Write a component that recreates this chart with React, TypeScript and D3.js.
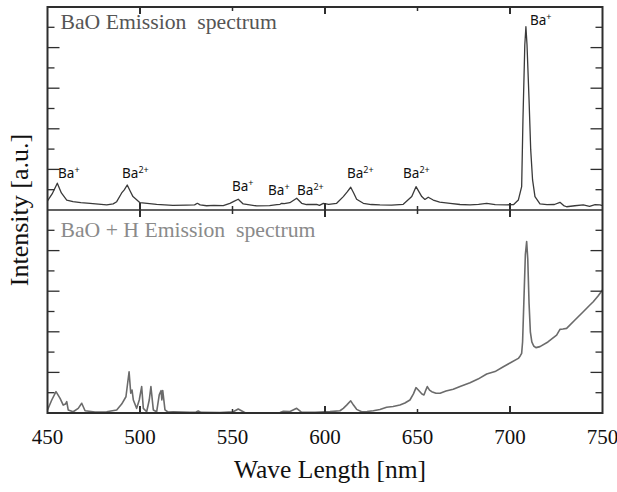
import React from 'react';
import * as d3 from 'd3';

// x axis
const xTickValues = [450, 500, 550, 600, 650, 700, 750];
const xMajorTicks = [500, 600, 700];
const xMinorTicks = [550, 650];
// y (minor marks, arbitrary units, each panel 0..10)
const yTickValues = [1, 2, 3, 4, 5, 6, 7, 8, 9];

// BaO emission spectrum  [wavelength nm, intensity a.u.]
const baoSpectrum: [number, number][] = [
  [450, 0.45], [452.5, 0.79], [455.3, 1.32], [457.5, 0.84], [460.4, 0.49], [463.8, 0.41], [468, 0.36], [473, 0.33],
  [482, 0.25], [485.5, 0.3], [487.4, 0.41], [490.1, 0.84], [491.5, 0.99], [493.1, 1.23], [494.8, 0.91], [496.2, 0.66],
  [500, 0.36], [509, 0.28], [517.8, 0.23], [525, 0.24], [529.5, 0.25], [531, 0.33], [532.5, 0.25], [536, 0.21],
  [540, 0.23], [545, 0.22], [548.6, 0.33], [551, 0.44], [553.1, 0.53], [555.8, 0.3], [563.1, 0.2], [570, 0.22],
  [574, 0.26], [575.7, 0.28], [576.6, 0.33], [578, 0.31], [581, 0.36], [584.7, 0.58], [587.4, 0.33], [590, 0.27],
  [595.5, 0.28], [597, 0.23], [599.1, 0.33], [602, 0.28], [606.3, 0.33], [609.9, 0.66], [612, 0.89], [613.9, 1.12],
  [615.5, 0.84], [617.1, 0.53], [620.7, 0.33], [625, 0.27], [629.7, 0.25], [636, 0.24], [642.3, 0.28], [646.9, 0.66],
  [649.2, 1.15], [652.3, 0.66], [654, 0.52], [655.8, 0.63], [658.5, 0.49], [662, 0.39], [667.6, 0.33], [673, 0.27],
  [678.4, 0.25], [683, 0.28], [687.4, 0.33], [692, 0.26], [698.2, 0.25], [702, 0.27], [704.5, 0.49], [706.3, 1.15],
  [707, 4.43], [708, 8.13], [708.6, 9.03], [709.2, 8.13], [710.3, 5.42], [711.2, 2.96], [712.2, 1.48], [713.5, 0.66],
  [716.2, 0.3], [720, 0.26], [724, 0.27], [727, 0.38], [729, 0.22], [730.6, 0.16], [735, 0.21], [739.6, 0.25],
  [743, 0.18], [746, 0.26], [748.6, 0.25], [750, 0.22],
];

// BaO + H emission spectrum
const baohSpectrum: [number, number][] = [
  [450, 0.15], [452.3, 0.64], [454.6, 1.05], [456.8, 0.72], [458.5, 0.39], [459.7, 0.44], [460.4, 0.56], [461.2, 0.15],
  [463.9, 0.06], [466.6, 0.23], [468.5, 0.48], [470.3, 0.11], [475.7, 0.05], [482, 0.06], [487.4, 0.15], [490.1, 0.44],
  [492.4, 0.8], [493.2, 1.38], [494.1, 2.03], [495, 0.97], [495.7, 1.13], [496.4, 0.64], [498.2, 0.23], [499.6, 0.64],
  [500.9, 1.3], [501.8, 0.23], [503.6, 0.06], [505, 0.64], [505.9, 1.3], [507.2, 0.15], [509, 0.06], [510.4, 0.89],
  [511.4, 1.1], [511.8, 0.64], [512.3, 1.1], [513.5, 0.15], [515.1, 0.05], [518, 0.06], [527, 0.03], [530.3, 0.05],
  [531.5, 0.1], [533, 0.03], [543.2, 0.02], [550.4, 0.06], [553.1, 0.2], [556.8, 0.01], [567.6, 0.01], [575.7, 0.02],
  [577.5, 0.08], [581.1, 0.07], [584.7, 0.23], [587.4, 0.03], [594.6, 0.03], [602.7, 0.07], [608.1, 0.11], [609.9, 0.23],
  [611.7, 0.39], [613.9, 0.6], [615.4, 0.39], [617.1, 0.18], [619.8, 0.06], [622.7, 0.07], [626.1, 0.11], [629.7, 0.17],
  [633.3, 0.28], [636.8, 0.32], [640.5, 0.39], [643.2, 0.49], [645.9, 0.64], [647.8, 0.94], [649.2, 1.25], [650.2, 1.16],
  [651.3, 1.05], [652.4, 0.94], [653.5, 0.89], [654.5, 1.13], [655.3, 1.3], [656.5, 1.13], [657.7, 1.05], [660, 0.97],
  [662.2, 0.97], [665.4, 1.08], [669.3, 1.17], [673, 1.31], [678.4, 1.49], [682.7, 1.67], [687.4, 1.92], [691.9, 2.04],
  [696.4, 2.28], [700, 2.46], [704.5, 2.69], [705.5, 2.81], [706.3, 2.94], [706.8, 3.5], [707.5, 5.5], [708.3, 7.8],
  [709, 8.44], [709.6, 7.6], [710.3, 5.4], [711, 4.0], [711.8, 3.5], [712.8, 3.3], [714, 3.22], [716.2, 3.27],
  [720.5, 3.5], [725.2, 3.84], [727, 4.12], [728.6, 4.14], [730.6, 4.17], [735.1, 4.58], [739.6, 4.99], [743.2, 5.32],
  [745, 5.48], [747.6, 5.76], [750, 6.06],
];

// peak annotations (top panel)
const peakCharge = ['+', '2+', '+', '+', '2+', '2+', '2+', '+'];
const peakWave = [455.7, 490.3, 549.7, 569.2, 584.9, 611.9, 642.2, 710.8];
const peakLevel = [1.58, 1.58, 0.95, 0.74, 0.74, 1.56, 1.58, 9.11];

const titles = ['BaO Emission  spectrum', 'BaO + H Emission  spectrum'];
const xAxisTitle = 'Wave Length [nm]';
const yAxisTitle = 'Intensity [a.u.]';

export default function App() {
  const W = 617, H = 492;
  const L = 47.5, R = 602.5, T = 7, M = 210, B = 413;
  const x = d3.scaleLinear().domain([450, 750]).range([L, R]);
  const yTop = d3.scaleLinear().domain([0, 10]).range([M, T]);
  const yBot = d3.scaleLinear().domain([0, 10]).range([B, M]);
  const lineTop = d3.line<[number, number]>().x(d => x(d[0])).y(d => yTop(d[1]));
  const lineBot = d3.line<[number, number]>().x(d => x(d[0])).y(d => yBot(d[1]));
  const serif = '"Liberation Serif", "Times New Roman", serif';
  const sans = '"Noto Sans", "Open Sans", sans-serif';
  const axisColor = '#2e2e2e';

  const yTickMarks = (scale: d3.ScaleLinear<number, number>) =>
    yTickValues.map(v => {
      const len = v % 2 === 0 ? 12 : 7;
      const yy = scale(v);
      return (
        <g key={v}>
          <line x1={L} x2={L + len} y1={yy} y2={yy} stroke={axisColor} strokeWidth={1.3} />
          <line x1={R} x2={R - len} y1={yy} y2={yy} stroke={axisColor} strokeWidth={1.3} />
        </g>
      );
    });

  const xTickGroup = (vals: number[], len: number, w: number) =>
    vals.map(v => (
      <g key={v}>
        <line x1={x(v)} x2={x(v)} y1={T} y2={T + len} stroke={axisColor} strokeWidth={w} />
        <line x1={x(v)} x2={x(v)} y1={M - len} y2={M + len} stroke={axisColor} strokeWidth={w} />
        <line x1={x(v)} x2={x(v)} y1={B} y2={B - len} stroke={axisColor} strokeWidth={w} />
      </g>
    ));

  return (
    <svg width={W} height={H} style={{ position: 'absolute', left: 0, top: 0, background: '#fff' }}>
      <rect x={0} y={0} width={W} height={H} fill="#fff" />
      {/* spectra */}
      <path d={lineTop(baoSpectrum) || ''} fill="none" stroke="#3a3a3a" strokeWidth={1.3} strokeLinejoin="round" />
      <path d={lineBot(baohSpectrum) || ''} fill="none" stroke="#6b6b6b" strokeWidth={1.6} strokeLinejoin="round" />

      {/* frame */}
      <rect x={L} y={T} width={R - L} height={B - T} fill="none" stroke={axisColor} strokeWidth={2} />
      <line x1={L} x2={R} y1={M} y2={M} stroke={axisColor} strokeWidth={1.6} />
      {yTickMarks(yTop)}
      {yTickMarks(yBot)}
      {xTickGroup(xMajorTicks, 7, 2)}
      {xTickGroup(xMinorTicks, 4, 1.5)}

      {/* panel titles */}
      <text x={60.5} y={29} fontFamily={serif} fontSize={21.7} fill="#555" style={{ whiteSpace: 'pre' }}>{titles[0]}</text>
      <text x={60.5} y={236.5} fontFamily={serif} fontSize={21.7} fill="#8a8a8a" style={{ whiteSpace: 'pre' }}>{titles[1]}</text>

      {/* peak labels */}
      {peakCharge.map((c, i) => (
        <text key={i} x={x(peakWave[i])} y={yTop(peakLevel[i])} fontFamily={sans} fontSize={13.5} fill="#111">
          Ba<tspan fontSize={9} dy={-5}>{c}</tspan>
        </text>
      ))}

      {/* x tick labels */}
      {xTickValues.map(v => (
        <text key={v} x={x(v)} y={444} textAnchor="middle" fontFamily={serif} fontSize={21} fill="#111">{v}</text>
      ))}
      <text x={330} y={478} textAnchor="middle" fontFamily={serif} fontSize={25.5} fill="#111">{xAxisTitle}</text>
      <text transform={`translate(28,${(T + B) / 2}) rotate(-90)`} textAnchor="middle" fontFamily={serif} fontSize={26} fill="#111">{yAxisTitle}</text>
    </svg>
  );
}
